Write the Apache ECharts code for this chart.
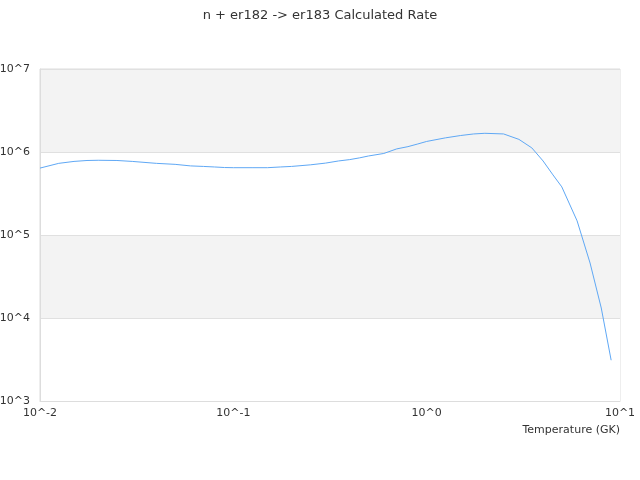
<!DOCTYPE html>
<html>
<head>
<meta charset="utf-8">
<script src="https://cdn.jsdelivr.net/npm/echarts@6/dist/echarts.min.js"></script>
<style>
html,body{margin:0;padding:0;background:#fff;}
#chart{width:640px;height:480px;}
</style>
</head>
<body>
<div id="chart"></div>
<script>
// temperature grid (GK) and rate
var temps = [0.01, 0.0125, 0.015, 0.0175, 0.02, 0.025, 0.03, 0.04, 0.05, 0.06,
	0.07, 0.08, 0.09, 0.1, 0.125, 0.15, 0.175, 0.2, 0.25, 0.3,
	0.35, 0.4, 0.45, 0.5, 0.6, 0.7, 0.8, 0.9, 1, 1.25,
	1.5, 1.75, 2, 2.5, 3, 3.5, 4, 4.5, 5, 6,
	7, 8, 9];
var rates = [6.4e5, 7.3e5, 7.7e5, 7.9e5, 7.95e5, 7.9e5, 7.7e5, 7.3e5, 7.1e5, 6.8e5,
	6.7e5, 6.6e5, 6.5e5, 6.47e5, 6.47e5, 6.47e5, 6.6e5, 6.7e5, 7.0e5, 7.35e5,
	7.8e5, 8.1e5, 8.5e5, 8.95e5, 9.6e5, 1.09e6, 1.16e6, 1.25e6, 1.34e6, 1.48e6,
	1.58e6, 1.65e6, 1.68e6, 1.65e6, 1.42e6, 1.12e6, 7.8e5, 5.3e5, 3.8e5, 1.48e5,
	4.6e4, 1.32e4, 3.1e3];
var titleText = 'n + er182 -> er183 Calculated Rate';
var xName = 'Temperature (GK)';

var seriesData = [];
for (var i = 0; i < temps.length; i++) {
	seriesData.push([temps[i], rates[i]]);
}

function powLabel(v) {
	return '10^' + Math.round(Math.log(v) / Math.LN10);
}

var chart = echarts.init(document.getElementById('chart'));
var option = {
	animation: false,
	textStyle: {fontFamily: 'DejaVu Sans'},
	title: {
		text: titleText,
		left: 'center',
		top: 4,
		textStyle: {fontSize: 13, fontWeight: 'normal', color: '#333'}
	},
	grid: {
		left: 40,
		right: 20,
		top: 69,
		bottom: 79,
		containLabel: false,
		outerBoundsMode: 'none',
		show: true,
		borderColor: '#ddd',
		borderWidth: 1
	},
	xAxis: {
		type: 'log',
		min: 0.01,
		max: 10,
		logBase: 10,
		name: xName,
		nameLocation: 'end',
		nameGap: 0,
		nameTextStyle: {
			align: 'right',
			verticalAlign: 'top',
			padding: [24, 0, 0, 0],
			fontSize: 11,
			color: '#333'
		},
		axisLine: {lineStyle: {color: '#ddd'}},
		axisTick: {show: false},
		splitLine: {show: false},
		axisLabel: {
			formatter: powLabel,
			fontSize: 11,
			color: '#333',
			margin: 7
		}
	},
	yAxis: {
		type: 'log',
		min: 1e3,
		max: 1e7,
		logBase: 10,
		axisLine: {show: true, lineStyle: {color: '#ddd'}},
		axisTick: {show: false},
		splitLine: {show: true, lineStyle: {color: '#e0e0e0'}},
		splitArea: {show: true, areaStyle: {color: ['#f3f3f3', '#ffffff']}},
		axisLabel: {
			formatter: powLabel,
			fontSize: 11,
			color: '#333',
			margin: 10
		}
	},
	series: [{
		type: 'line',
		data: seriesData,
		showSymbol: false,
		lineStyle: {color: '#5fa8f5', width: 1},
		itemStyle: {color: '#5fa8f5'}
	}]
};
chart.setOption(option);
</script>
</body>
</html>
